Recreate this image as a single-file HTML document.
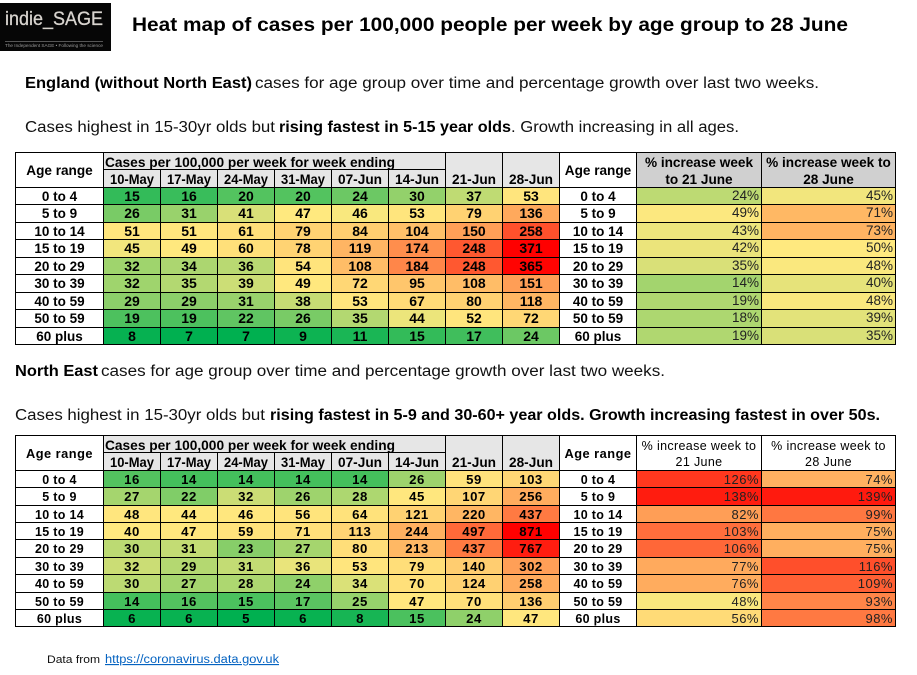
<!DOCTYPE html>
<html lang="en">
<head>
<meta charset="utf-8">
<title>Heat map of cases per 100,000 people per week by age group</title>
<style>
html,body{margin:0;padding:0;background:#fff}
svg{display:block}
text{font-family:"Liberation Sans",sans-serif;fill:#000}
.t{font-size:19.5px;font-weight:bold}
.p{font-size:15.5px;fill:#111}
.b{font-weight:bold;fill:#000}
</style>
</head>
<body>
<svg id="chart" xmlns="http://www.w3.org/2000/svg" width="917" height="675" viewBox="0 0 917 675">
  <g>
    <rect x="0" y="3" width="111" height="48" fill="#060606"/>
    <text x="5" y="25" style="font-size:19.5px;fill:#d8d4cf;stroke:#d8d4cf;stroke-width:0.3" textLength="98" lengthAdjust="spacingAndGlyphs">indie_SAGE</text>
    <rect x="5" y="41" width="98" height="1" fill="#555"/>
    <text x="5" y="47" style="font-size:4.5px;fill:#999" textLength="98" lengthAdjust="spacingAndGlyphs">The Independent SAGE • Following the science</text>
  </g>
  <text class="t" x="132" y="31" textLength="716" lengthAdjust="spacingAndGlyphs">Heat map of cases per 100,000 people per week by age group to 28 June</text>

  <text class="p b" x="25" y="88" textLength="227" lengthAdjust="spacingAndGlyphs">England (without North East)</text>
  <text class="p" x="255" y="88" textLength="564" lengthAdjust="spacingAndGlyphs">cases for age group over time and percentage growth over last two weeks.</text>
  <text class="p" x="25" y="132" textLength="250" lengthAdjust="spacingAndGlyphs">Cases highest in 15-30yr olds but</text>
  <text class="p b" x="279" y="132" textLength="232" lengthAdjust="spacingAndGlyphs">rising fastest in 5-15 year olds</text>
  <text class="p" x="511" y="132" textLength="228" lengthAdjust="spacingAndGlyphs">. Growth increasing in all ages.</text>

  <text class="p b" x="15" y="376" textLength="83" lengthAdjust="spacingAndGlyphs">North East</text>
  <text class="p" x="101" y="376" textLength="564" lengthAdjust="spacingAndGlyphs">cases for age group over time and percentage growth over last two weeks.</text>
  <text class="p" x="15" y="420" textLength="250" lengthAdjust="spacingAndGlyphs">Cases highest in 15-30yr olds but</text>
  <text class="p b" x="270" y="420" textLength="610" lengthAdjust="spacingAndGlyphs">rising fastest in 5-9 and 30-60+ year olds. Growth increasing fastest in over 50s.</text>

  <text x="47" y="663" style="font-size:11px;fill:#111" textLength="53" lengthAdjust="spacingAndGlyphs">Data from</text>
  <text x="105" y="663" style="font-size:11.5px;fill:#0563c1;text-decoration:underline" textLength="174" lengthAdjust="spacingAndGlyphs">https://coronavirus.data.gov.uk</text>
</svg>
<script>
const ageGroups = ["0 to 4","5 to 9","10 to 14","15 to 19","20 to 29","30 to 39","40 to 59","50 to 59","60 plus"];
const weekLabels = ["10-May","17-May","24-May","31-May","07-Jun","14-Jun","21-Jun","28-Jun"];

const englandCases = [
  [15,16,20,20,24,30,37,53],
  [26,31,41,47,46,53,79,136],
  [51,51,61,79,84,104,150,258],
  [45,49,60,78,119,174,248,371],
  [32,34,36,54,108,184,248,365],
  [32,35,39,49,72,95,108,151],
  [29,29,31,38,53,67,80,118],
  [19,19,22,26,35,44,52,72],
  [8,7,7,9,11,15,17,24]
];
const englandPctTo21 = [24,49,43,42,35,14,19,18,19];
const englandPctTo28 = [45,71,73,50,48,40,48,39,35];

const northEastCases = [
  [16,14,14,14,14,26,59,103],
  [27,22,32,26,28,45,107,256],
  [48,44,46,56,64,121,220,437],
  [40,47,59,71,113,244,497,871],
  [30,31,23,27,80,213,437,767],
  [32,29,31,36,53,79,140,302],
  [30,27,28,24,34,70,124,258],
  [14,16,15,17,25,47,70,136],
  [6,6,5,6,8,15,24,47]
];
const northEastPctTo21 = [126,138,82,103,106,77,76,48,56];
const northEastPctTo28 = [74,139,99,75,75,116,109,93,98];

const NS = "http://www.w3.org/2000/svg";
const root = document.getElementById("chart");

function mix(a, b, t) {
  const c = [0, 1, 2].map(function (i) { return Math.round(a[i] + (b[i] - a[i]) * t); });
  return "rgb(" + c.join(",") + ")";
}
function scaleColor(v, lo, mid, hi) {
  const green = [0, 176, 80], yellow = [255, 233, 127], red = [255, 0, 0];
  if (v <= mid) return mix(green, yellow, Math.max(0, (v - lo) / (mid - lo)));
  return mix(yellow, red, Math.min(1, (v - mid) / (hi - mid)));
}
function weekX(i) { return 103 + i * 57; }

function cell(parent, name, x0, y0, x1, y1, fill) {
  const r = document.createElementNS(NS, "rect");
  r.setAttribute("x", x0 + 0.5);
  r.setAttribute("y", y0 + 0.5);
  r.setAttribute("width", x1 - x0);
  r.setAttribute("height", y1 - y0);
  r.setAttribute("fill", fill);
  r.setAttribute("stroke", "#000");
  r.setAttribute("stroke-width", "1");
  
  
  parent.appendChild(r);
}
function label(parent, name, x, y, str, o) {
  const t = document.createElementNS(NS, "text");
  t.setAttribute("x", x);
  t.setAttribute("y", y);
  t.setAttribute("text-anchor", o.anchor || "middle");
  t.setAttribute("style", "font-size:" + (o.size || 13) + "px;font-weight:" + (o.weight || "bold") + ";letter-spacing:" + (o.spacing || 0) + "px;fill:" + (o.fill || "#000"));
  if (o.len) {
    t.setAttribute("textLength", o.len);
    t.setAttribute("lengthAdjust", "spacingAndGlyphs");
  }
  t.textContent = str;
  
  
  parent.appendChild(t);
}

function drawTable(prefix, cfg) {
  const g = document.createElementNS(NS, "g");
  
  
  root.appendChild(g);

  const rowY = function (i) { return Math.floor(cfg.rowTop + i * cfg.rowH); };
  const all = [].concat.apply([], cfg.cases);
  const lo = Math.min.apply(null, all), hi = Math.max.apply(null, all);
  const head = rowY(0);

  cell(g, prefix + "-age-header-cell", 15, cfg.top, 103, head, "#fff");
  label(g, prefix + "-age-header", 59.5, cfg.top + 23, "Age range", {size: cfg.headSize, spacing: cfg.headSpacing});
  cell(g, prefix + "-weeks-group-cell", weekX(0), cfg.top, weekX(6), cfg.mid, "#e6e6e6");
  label(g, prefix + "-weeks-group-header", 105, cfg.top + 15, "Cases per 100,000 per week for week ending", {anchor: "start", len: 290, size: 13.5});
  cell(g, prefix + "-age-header-right-cell", 559, cfg.top, 636, head, "#fff");
  label(g, prefix + "-age-header-right", 598, cfg.top + 23, "Age range", {size: cfg.headSize, spacing: cfg.headSpacing});

  weekLabels.forEach(function (w, j) {
    const top = j >= 6 ? cfg.top : cfg.mid;
    cell(g, prefix + "-week-cell-" + w.toLowerCase(), weekX(j), top, weekX(j + 1), head, "#e6e6e6");
    label(g, prefix + "-week-" + w.toLowerCase(), weekX(j) + 7, head - 3, w, {anchor: "start", size: 13.5, len: 44});
  });

  const pctHeads = ["% increase week to 21 June", "% increase week to 28 June"];
  const pctCols = [[636, 761], [761, 895]];
  pctHeads.forEach(function (h, k) {
    cell(g, prefix + "-pct-header-cell-" + k, pctCols[k][0], cfg.top, pctCols[k][1], head, cfg.pctHeadFill);
    const cx = (pctCols[k][0] + pctCols[k][1]) / 2 + 0.5;
    label(g, prefix + "-pct-header-line1-" + k, cx, cfg.top + 15, cfg.pctLines[k][0], {size: cfg.pctHeadSize, weight: cfg.pctHeadWeight, spacing: cfg.pctHeadSpacing});
    label(g, prefix + "-pct-header-line2-" + k, cx, cfg.top + cfg.pctLine2, cfg.pctLines[k][1], {size: cfg.pctHeadSize, weight: cfg.pctHeadWeight, spacing: cfg.pctHeadSpacing});
  });

  ageGroups.forEach(function (age, i) {
    const y0 = rowY(i), y1 = rowY(i + 1), base = y0 + 14;
    const slug = age.replace(/ /g, "-");
    cell(g, prefix + "-age-cell-" + slug, 15, y0, 103, y1, "#fff");
    label(g, prefix + "-age-" + slug, 59.5, base, age, {size: cfg.ageSize, spacing: cfg.ageSpacing});
    cfg.cases[i].forEach(function (v, j) {
      cell(g, prefix + "-cell-" + slug + "-" + weekLabels[j].toLowerCase(), weekX(j), y0, weekX(j + 1), y1, scaleColor(v, lo, cfg.midCases, hi));
      label(g, prefix + "-value-" + slug + "-" + weekLabels[j].toLowerCase(), weekX(j) + 29, base, String(v), {size: cfg.valueSize, spacing: cfg.valueSpacing});
    });
    cell(g, prefix + "-age-right-cell-" + slug, 559, y0, 636, y1, "#fff");
    label(g, prefix + "-age-right-" + slug, 598, base, age, {size: cfg.ageSize, spacing: cfg.ageSpacing});
    [cfg.pct21, cfg.pct28].forEach(function (series, k) {
      const v = series[i];
      cell(g, prefix + "-pct-cell-" + slug + "-" + k, pctCols[k][0], y0, pctCols[k][1], y1, scaleColor(v, -50, 50, 150));
      label(g, prefix + "-pct-" + slug + "-" + k, pctCols[k][1] - 2, base + cfg.pctBase, v + "%", {anchor: "end", size: cfg.pctSize, weight: "normal", spacing: cfg.pctSpacing, fill: "#222"});
    });
  });
}

drawTable("england", {
  top: 152, mid: 169, rowTop: 187.4, rowH: 17.45, midCases: 47,
  headSize: 13.6, headSpacing: 0, ageSize: 13.5, ageSpacing: 0, valueSize: 14, valueSpacing: 0,
  pctSize: 13.5, pctSpacing: 0, pctBase: -1,
  cases: englandCases, pct21: englandPctTo21, pct28: englandPctTo28,
  pctHeadFill: "#d0d0d0", pctHeadWeight: "bold", pctHeadSize: 13.6, pctHeadSpacing: 0, pctLine2: 32,
  pctLines: [["% increase week", "to 21 June"], ["% increase week to", "28 June"]]
});
drawTable("north-east", {
  top: 435, mid: 452, rowTop: 470.55, rowH: 17.36, midCases: 39,
  headSize: 12.8, headSpacing: 0.5, ageSize: 12.5, ageSpacing: 0.3, valueSize: 13.2, valueSpacing: 0.5,
  pctSize: 13, pctSpacing: 0.5, pctBase: 0,
  cases: northEastCases, pct21: northEastPctTo21, pct28: northEastPctTo28,
  pctHeadFill: "#fff", pctHeadWeight: "normal", pctHeadSize: 12.5, pctHeadSpacing: 0.35, pctLine2: 31,
  pctLines: [["% increase week to", "21 June"], ["% increase week to", "28 June"]]
});
</script>
</body>
</html>
